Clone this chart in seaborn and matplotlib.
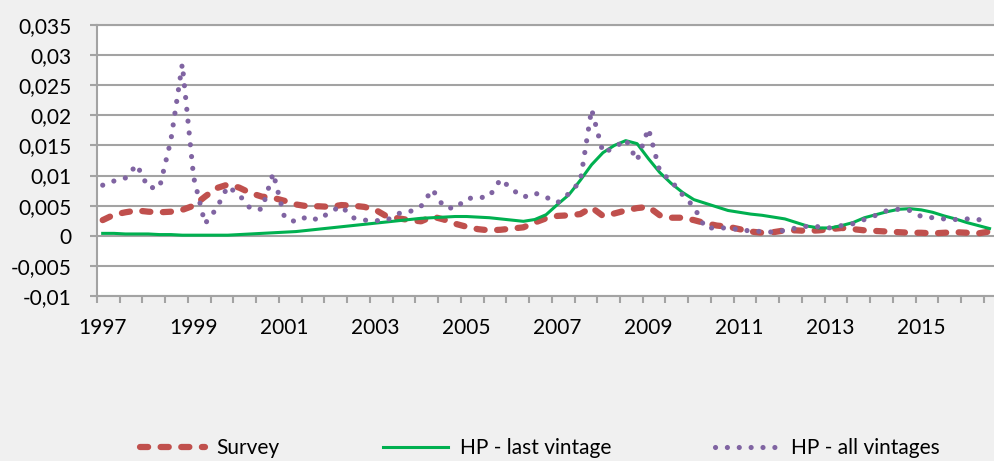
import numpy as np
import pandas as pd
import seaborn as sns
from matplotlib import pyplot as plt
from matplotlib.ticker import FixedLocator, FuncFormatter

quarters = pd.period_range("1997Q1", "2016Q3", freq="Q")

survey = [
    .0026, .0035, .0039, .0042, .0040, .0039, .0040, .0043, .0050, .0065,
    .0079, .0085, .0080, .0071, .0065, .0063, .0058, .0052, .0049, .0049,
    .0048, .0051, .0050, .0048, .0043, .0032, .0029, .0026, .0024, .0032,
    .0027, .0020, .0015, .0011, .0009, .0010, .0012, .0014, .0022, .0029,
    .0033, .0034, .0036, .0047, .0033, .0037, .0042, .0046, .0048, .0034,
    .0030, .0030, .0026, .0021, .0017, .0015, .0011, .0007, .0005, .0006,
    .0009, .0009, .0008, .0009, .0011, .0013, .0011, .0009, .0008, .0007,
    .0006, .0005, .0005, .0004, .0005, .0006, .0005, .0004, .0007,
]
hp_last = [
    .0004, .0004, .0003, .0003, .0003, .0002, .0002, .0001, .0001, .0001,
    .0001, .0001, .0002, .0003, .0004, .0005, .0006, .0007, .0009, .0011,
    .0013, .0015, .0017, .0019, .0021, .0023, .0025, .0027, .0029, .0030,
    .0031, .0032, .0032, .0031, .0030, .0028, .0026, .0024, .0027, .0035,
    .0052, .0068, .0092, .0118, .0138, .0150, .0158, .0153, .0128, .0105,
    .0087, .0072, .0060, .0054, .0048, .0042, .0039, .0036, .0034, .0031,
    .0028, .0022, .0016, .0013, .0013, .0017, .0022, .0030, .0035, .0040,
    .0044, .0045, .0043, .0039, .0033, .0028, .0022, .0017, .0012,
]
hp_all = [
    .0084, .0091, .0096, .0118, .0080, .0080, .0159, .0285, .0097, .0020,
    .0045, .0082, .0068, .0045, .0044, .0104, .0030, .0023, .0032, .0026,
    .0040, .0049, .0030, .0026, .0025, .0026, .0037, .0040, .0049, .0077,
    .0048, .0045, .0062, .0063, .0065, .0094, .0077, .0064, .0071, .0064,
    .0055, .0070, .0090, .0210, .0138, .0146, .0160, .0125, .0178, .0107,
    .0091, .0068, .0048, .0013, .0013, .0013, .0010, .0008, .0007, .0006,
    .0009, .0013, .0016, .0015, .0013, .0017, .0020, .0027, .0034, .0042,
    .0044, .0042, .0032, .0030, .0028, .0027, .0028, .0027, .0023,
]

pos = np.arange(len(quarters))
df = pd.DataFrame({"pos": pos, "survey": survey, "hp_last": hp_last, "hp_all": hp_all})

plt.rcParams["font.family"] = ["Lato", "DejaVu Sans"]
GRID = "#a3a3a3"

fig = plt.figure(figsize=(9.95, 4.61), dpi=100, facecolor="#f0f0f0")
ax = fig.add_axes([97 / 995, 1 - 296 / 461, 1 - 97 / 995, 271 / 461])
ax.set_facecolor("white")

sns.lineplot(data=df, x="pos", y="survey", color="#c0504d", linewidth=4.5,
             linestyle=(0, (1.3, 2.0)), dash_capstyle="round",
             label="Survey", ax=ax)
sns.lineplot(data=df, x="pos", y="hp_last", color="#00b050", linewidth=2.2,
             label="HP - last vintage", ax=ax)
sns.lineplot(data=df, x="pos", y="hp_all", color="#8064a2", linewidth=3.7,
             linestyle=(0, (0.01, 2.3)), dash_capstyle="round",
             label="HP - all vintages", ax=ax)

ax.set_xlim(-0.5, 78.48)
ax.set_ylim(-0.01, 0.035)
ax.set_yticks(np.arange(-0.01, 0.0351, 0.005))
ax.yaxis.set_major_formatter(
    FuncFormatter(lambda v, _: f"{round(v, 4) + 0:g}".replace(".", ","))
)
ax.grid(which="major", axis="y", color=GRID, linewidth=1.5)
ax.set_axisbelow(True)

# year labels every 8 quarters, tick marks every 2 quarters
label_pos = [p for p, q in zip(pos, quarters) if q.quarter == 1 and q.year % 2 == 1]
ax.xaxis.set_major_locator(FixedLocator(label_pos))
ax.set_xticklabels([str(quarters[p].year) for p in label_pos])
ax.xaxis.set_minor_locator(FixedLocator(np.arange(-0.5, 79, 2)))
ax.tick_params(axis="x", which="major", length=0, pad=16, labelsize=15)
ax.tick_params(axis="x", which="minor", length=5, width=1.5, color=GRID, direction="out")
ax.tick_params(axis="y", length=5, width=1.5, color=GRID, pad=13, labelsize=15)
ax.set_xlabel("")
ax.set_ylabel("")

for side in ("left", "bottom", "top"):
    ax.spines[side].set_color(GRID)
    ax.spines[side].set_linewidth(1.5)
ax.spines["right"].set_visible(False)

ax.legend(loc="center", bbox_to_anchor=(540 / 995, 1 - 448 / 461),
          bbox_transform=fig.transFigure, ncol=3, frameon=False, fontsize=15,
          handlelength=3.1, handletextpad=0.55, columnspacing=5.0)

fig.savefig("out.png", dpi=100, facecolor=fig.get_facecolor())
